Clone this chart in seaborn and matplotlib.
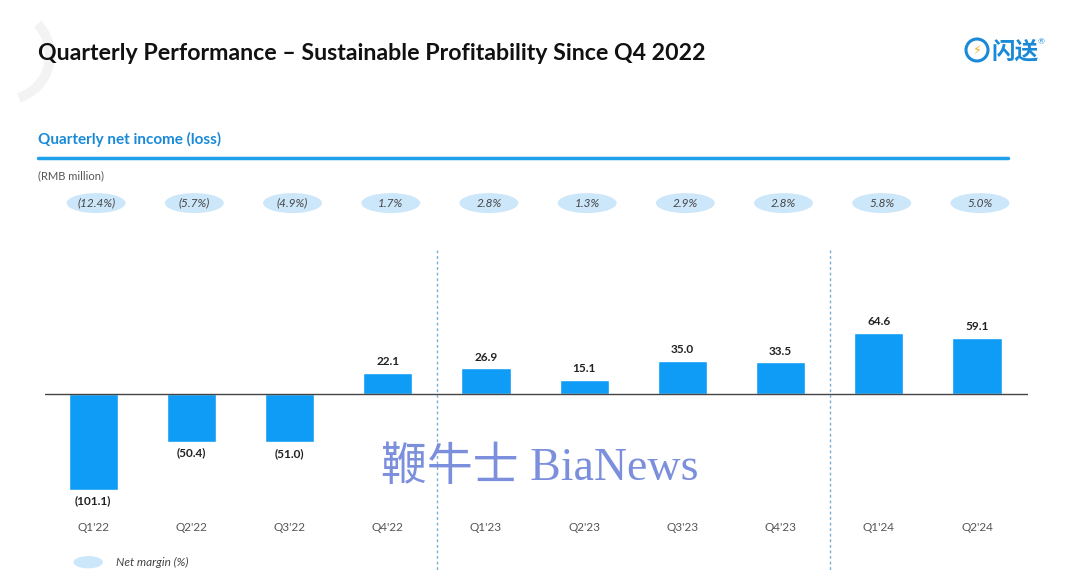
"""
Quarterly net income (loss) bar chart with net-margin pills.
"""

import pandas as pd
import matplotlib.pyplot as plt
import seaborn as sns
from matplotlib.patches import Ellipse, Arc

quarters = ["Q1'22", "Q2'22", "Q3'22", "Q4'22", "Q1'23",
            "Q2'23", "Q3'23", "Q4'23", "Q1'24", "Q2'24"]
net_income = [-101.1, -50.4, -51.0, 22.1, 26.9, 15.1, 35.0, 33.5, 64.6, 59.1]
net_margin = ["(12.4%)", "(5.7%)", "(4.9%)", "1.7%", "2.8%",
              "1.3%", "2.9%", "2.8%", "5.8%", "5.0%"]

BAR_BLUE = "#0e9cf6"
PILL_BLUE = "#cde7fa"
TEXT_GREY = "#555555"

sns.set_theme(style="white")
plt.rcParams['font.family'] = ['Lato', 'Noto Sans CJK SC', 'DejaVu Sans']

W, H = 1080, 587


def fmt(v):
    return f"({abs(v):.1f})" if v < 0 else f"{v:.1f}"


def fx(px):
    return px / W


def fy(py):
    return 1 - py / H


def main():
    df = pd.DataFrame({"quarter": quarters, "income": net_income})

    fig = plt.figure(figsize=(10.8, 5.87), dpi=100)
    fig.patch.set_facecolor("white")
    ax = fig.add_axes([0.0417, 0.0204, 0.9102, 0.7581])

    sns.barplot(data=df, x="quarter", y="income", color=BAR_BLUE,
                width=0.5, saturation=1, ax=ax)
    ax.set_xlim(-0.49, 9.52)
    ax.set_ylim(-190.5, 277.9)
    ax.axis("off")
    ax.axhline(0, color="#444444", lw=1)

    # value labels
    ax.bar_label(ax.containers[0], labels=[fmt(v) for v in net_income],
                 padding=4, fontsize=8.5, fontweight="bold", color="#222222")

    # net margin pills and quarter labels
    for i, (q, m) in enumerate(zip(quarters, net_margin)):
        ax.add_patch(Ellipse((i + 0.03, 201), 0.6, 21, color=PILL_BLUE, lw=0))
        ax.text(i + 0.03, 201, m, ha="center", va="center", fontsize=8.5,
                style="italic", color="#444444")
        ax.text(i, -140, q, ha="center", va="center", fontsize=8.5,
                color=TEXT_GREY)

    # period separators
    for xv in (3.5, 7.5):
        ax.plot([xv, xv], [152, -187], color="#7aaed0", lw=1,
                linestyle=(0, (2, 2)))

    # legend
    ax.add_patch(Ellipse((-0.05, -177), 0.3, 13, color=PILL_BLUE, lw=0))
    ax.text(0.23, -177, "Net margin (%)", ha="left", va="center",
            fontsize=8.5, style="italic", color="#444444")

    # headings
    fig.text(fx(38), fy(53),
             "Quarterly Performance \u2013 Sustainable Profitability Since Q4 2022",
             ha="left", va="center", fontsize=16.7, fontweight="bold", color="#111111")
    fig.text(fx(38), fy(139), "Quarterly net income (loss)",
             ha="left", va="center", fontsize=11, fontweight="bold", color="#1a8ad8")
    fig.add_artist(plt.Line2D([fx(38), fx(1008)], [fy(158)] * 2,
                              color="#1ea0ea", lw=2.5))
    fig.text(fx(38), fy(176), "(RMB million)", ha="left", va="center",
             fontsize=8, color=TEXT_GREY)

    # logo
    fig.add_artist(Ellipse((fx(977), fy(50)), 22 / W, 22 / H, transform=fig.transFigure,
                           fill=False, ec="#1a8ad8", lw=2.2))
    fig.text(fx(977), fy(50), "\u26a1", ha="center", va="center",
             fontsize=9, color="#f5b020", family=['DejaVu Sans'])
    fig.text(fx(991), fy(51), "闪送", ha="left", va="center", fontsize=17,
             fontweight="bold", color="#1a8ad8", family=['Noto Sans CJK SC'])
    fig.text(fx(1038), fy(42), "\u00ae", ha="left", va="center",
             fontsize=6, color="#1a8ad8")

    # corner decoration
    fig.add_artist(Arc((fx(5), fy(55)), 90 / W, 90 / H, theta1=-80, theta2=60,
                       transform=fig.transFigure, color="#f3f3f3", lw=7))

    # watermark
    fig.text(fx(540), fy(469), "鞭牛士 BiaNews", ha="center", va="center",
             fontsize=33, color="#7b8fdc",
             family=['Liberation Serif', 'Noto Sans CJK SC'])

    fig.savefig("out.png", dpi=100)
    plt.close(fig)


if __name__ == "__main__":
    main()
